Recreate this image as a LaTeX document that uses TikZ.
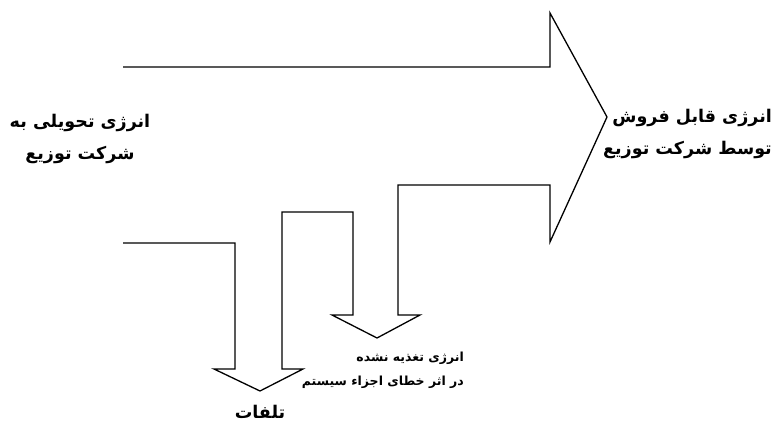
\documentclass[tikz,border=0pt]{standalone}
\usepackage{fontspec}
\TeXXeTstate=1
\newfontfamily\arabicfont[Script=Arabic]{DejaVu Sans}
\begin{document}
\begin{tikzpicture}[x=1pt,y=-1pt,
  outline/.style={draw=black,line width=1.3pt,line join=miter},
  lbl/.style={font=\arabicfont\bfseries\fontsize{17.5}{32}\selectfont,inner sep=0pt},
  sml/.style={font=\arabicfont\bfseries\fontsize{12.5}{24}\selectfont,inner sep=0pt}]
\useasboundingbox (0,0) rectangle (773,422);
\draw[outline] (123,67) -- (550,67) -- (550,13) -- (607,117) -- (550,242) -- (550,185)
  -- (398,185) -- (398,315) -- (420,315) -- (377,338) -- (332,315) -- (353,315)
  -- (353,212) -- (282,212) -- (282,369) -- (303,369) -- (260,391) -- (214,369)
  -- (235,369) -- (235,243) -- (123,243);
\node[lbl,align=center] (src) at (80,139) {\beginR انرژی تحویلی به\endR\\\beginR شرکت توزیع\endR};
\node[lbl,align=right,anchor=east] (sale) at (772,134) {\beginR انرژی قابل فروش\endR\\\beginR توسط شرکت توزیع\endR};
\node[sml,align=right,anchor=east] (ens) at (464,370) {\beginR انرژی تغذیه نشده\endR\\\beginR در اثر خطای اجزاء سیستم\endR};
\node[lbl] (loss) at (260,412) {\beginR تلفات\endR};
\end{tikzpicture}
\end{document}
